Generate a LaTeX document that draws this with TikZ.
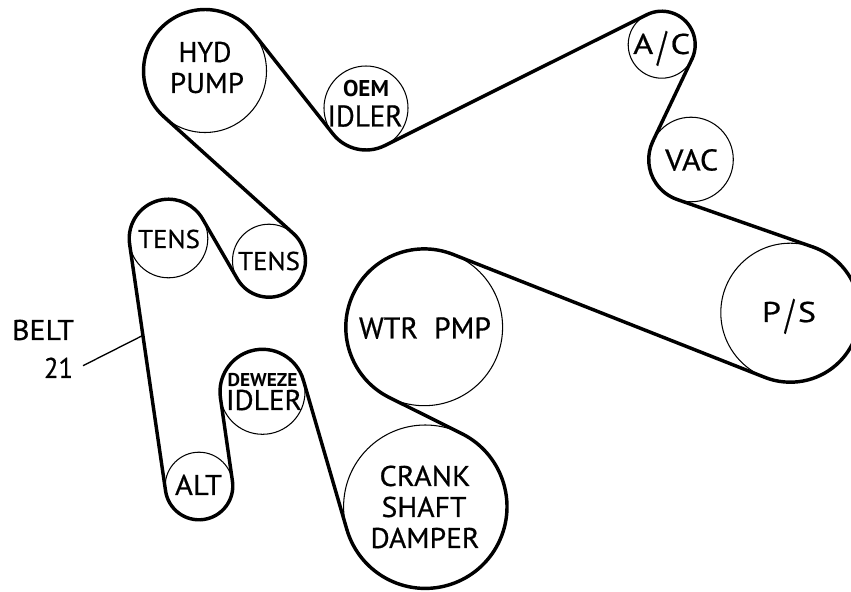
\documentclass[tikz,border=0pt]{standalone}
\usepackage{graphicx}
\usepackage{fontspec}
\setmainfont[FakeBold=0.6]{PT Sans}
\newfontfamily\heavyfont{PT Sans}
\usetikzlibrary{calc}
\newdimen\pxu
\pxu=0.01cm
\tikzset{
  pulley/.style={circle,draw=black,line width=0.3pt,inner sep=0pt,fill=none},
  belt/.style={draw=black,line width=0.98pt,line cap=round},
  leader/.style={draw=black,line width=0.38pt},
  lbl/.style={inner sep=0pt,outer sep=0pt,text=black}
}
\newcommand\tallslash{\raisebox{-0.22em}{\scalebox{0.75}[1.45]{/}}}
% pulley: name, x, y, radius (reference pixels), sense (1 = clockwise, -1 = counter-clockwise)
\newcommand\pul[5]{%
  \pgfmathsetmacro\tmpx{#2/100}\expandafter\xdef\csname x#1\endcsname{\tmpx}%
  \pgfmathsetmacro\tmpy{(591-#3)/100}\expandafter\xdef\csname y#1\endcsname{\tmpy}%
  \pgfmathsetmacro\tmpr{#4/100}\expandafter\xdef\csname r#1\endcsname{\tmpr}%
  \pgfmathsetmacro\tmps{#5*#4/100}\expandafter\xdef\csname R#1\endcsname{\tmps}%
  \node[pulley,minimum size=\tmpr*2cm] (#1) at (\tmpx,\tmpy) {};%
}
% straight run of the belt from pulley #1 to pulley #2
\newcommand\run[2]{%
  \pgfmathsetmacro\ddx{\csname x#2\endcsname-\csname x#1\endcsname}%
  \pgfmathsetmacro\ddy{\csname y#2\endcsname-\csname y#1\endcsname}%
  \pgfmathsetmacro\ddd{veclen(\ddx,\ddy)}%
  \pgfmathsetmacro\tth{atan2(\ddy,\ddx)+acos((\csname R#1\endcsname-\csname R#2\endcsname)/\ddd)}%
  \expandafter\xdef\csname th#1#2\endcsname{\tth}%
  \coordinate (#1-#2-a) at ($(#1.center)+(\tth:\csname R#1\endcsname)$);%
  \coordinate (#1-#2-b) at ($(#2.center)+(\tth:\csname R#2\endcsname)$);%
  \draw[belt] (#1-#2-a) -- (#1-#2-b);%
}
% arc of the belt on pulley #2, between the runs from #1 and to #3
\newcommand\wrap[3]{%
  \pgfmathsetmacro\aaa{\csname th#1#2\endcsname}%
  \pgfmathsetmacro\bbb{\csname th#2#3\endcsname}%
  \pgfmathsetmacro\ssa{\csname R#2\endcsname>0?\aaa:\aaa+180}%
  \pgfmathsetmacro\ssb{\csname R#2\endcsname>0?\aaa-Mod(\aaa-\bbb,360):\aaa+180+Mod(\bbb-\aaa,360)}%
  \draw[belt] (#1-#2-b) arc[start angle=\ssa,end angle=\ssb,radius=\csname r#2\endcsname cm];%
}
% label: name, x, y, width, height (reference pixels), text
\newcommand\lab[6]{%
  \node[lbl] (#1) at ({#2/100},{(591-#3)/100}) {\resizebox{#4\pxu}{#5\pxu}{\vphantom{H}\smash{#6}}};%
}
\begin{document}
\begin{tikzpicture}
\clip (0,0) rectangle (8.51,5.91);
\pul{hyd}{205}{71}{61.5}{1}
\pul{oem}{366}{108}{42}{-1}
\pul{ac}{661.7}{44.7}{33.5}{1}
\pul{vac}{691}{159.5}{42.3}{-1}
\pul{ps}{790.3}{312.7}{69.5}{1}
\pul{wtr}{424.2}{327.3}{78.4}{-1}
\pul{crank}{425.3}{506.7}{81.7}{1}
\pul{dew}{262.5}{391.8}{42.5}{-1}
\pul{alt}{199}{486}{33.8}{1}
\pul{tena}{168.5}{238.5}{39.3}{1}
\pul{tenb}{269}{260.7}{36.5}{-1}
\run{hyd}{oem}\run{oem}{ac}\run{ac}{vac}\run{vac}{ps}\run{ps}{wtr}\run{wtr}{crank}
\run{crank}{dew}\run{dew}{alt}\run{alt}{tena}\run{tena}{tenb}\run{tenb}{hyd}
\wrap{tenb}{hyd}{oem}\wrap{hyd}{oem}{ac}\wrap{oem}{ac}{vac}\wrap{ac}{vac}{ps}
\wrap{vac}{ps}{wtr}\wrap{ps}{wtr}{crank}\wrap{wtr}{crank}{dew}\wrap{crank}{dew}{alt}
\wrap{dew}{alt}{tena}\wrap{alt}{tena}{tenb}\wrap{tena}{tenb}{hyd}
\lab{l1}{205}{52}{53}{20}{HYD}
\lab{l2}{207}{83}{74}{20}{PUMP}
\lab{l3}{366}{89}{46}{16}{\heavyfont\bfseries OEM}
\lab{l4}{365}{116}{75}{21}{IDLER}
\lab{l5}{169}{239}{62}{18}{TENS}
\lab{l6}{269}{261}{62}{18}{TENS}
\lab{l7}{661.7}{44}{57}{20}{A\kern0.12em\tallslash\kern0.12em C}
\lab{l8}{691.7}{160}{53}{21}{VAC}
\lab{l9}{789}{312}{54}{20}{P\kern0.12em\tallslash\kern0.12em S}
\lab{l10}{425}{328}{132}{21}{WTR\ \ PMP}
\lab{l11}{425}{476}{91}{20}{CRANK}
\lab{l12}{424}{507}{85}{20}{SHAFT}
\lab{l13}{425}{538}{109}{20}{DAMPER}
\lab{l14}{43}{330}{62}{20}{BELT}
\lab{l15}{58.5}{368}{29}{20}{21}
\lab{l16}{198.5}{485}{47}{20}{ALT}
\lab{l17}{262.5}{380}{70}{13}{\heavyfont\bfseries DEWEZE}
\lab{l18}{264}{400}{76}{20}{IDLER}
\coordinate (leadfree) at (0.83,{(591-365.7)/100});
\coordinate (leadend) at (1.417,{(591-336)/100});
\draw[leader] (leadfree) -- (leadend);
\end{tikzpicture}
\end{document}
